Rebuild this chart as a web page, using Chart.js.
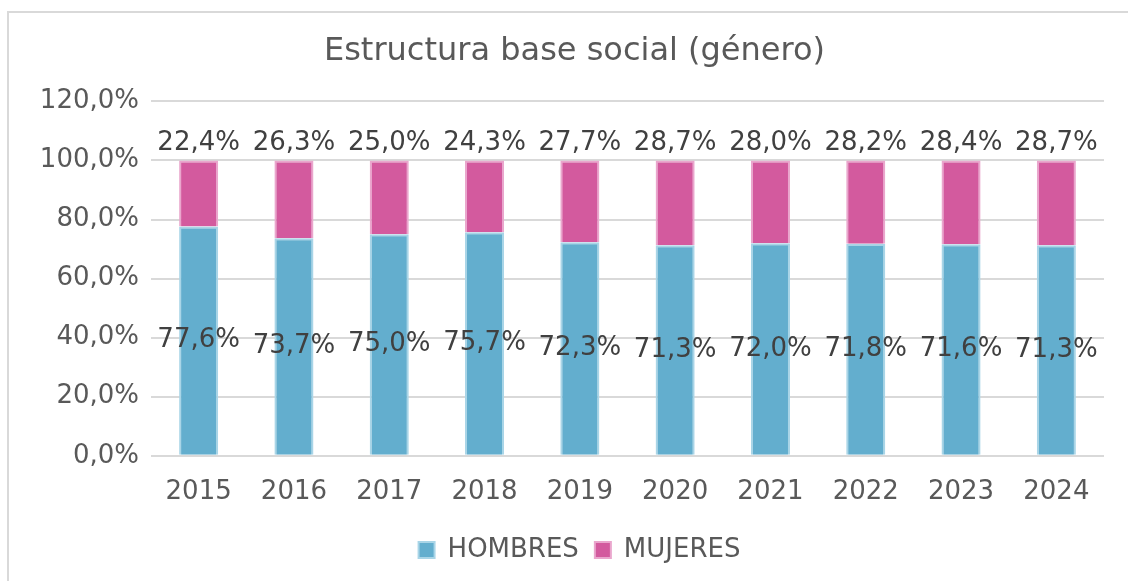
<!DOCTYPE html>
<html>
<head>
<meta charset="utf-8">
<script src="https://cdn.jsdelivr.net/npm/chart.js@4"></script>
<style>
  html, body { margin: 0; padding: 0; background: #fff; overflow: hidden; }
  #frame {
    position: absolute; left: 7px; top: 11px;
    width: 1140px; height: 600px;
    border-left: 2px solid #d9d9d9; border-top: 2px solid #d9d9d9;
  }
  #chart { display: block; }
</style>
</head>
<body>
<div id="frame"><canvas id="chart" width="1119" height="568"></canvas></div>
<script>
const years = ['2015', '2016', '2017', '2018', '2019', '2020', '2021', '2022', '2023', '2024'];
const hombres = [77.6, 73.7, 75.0, 75.7, 72.3, 71.3, 72.0, 71.8, 71.6, 71.3];
const mujeres = [22.4, 26.3, 25.0, 24.3, 27.7, 28.7, 28.0, 28.2, 28.4, 28.7];
const yTicks = [0, 20, 40, 60, 80, 100, 120];

const textColor = '#595959';
const fontFamily = '"DejaVu Sans", Verdana, sans-serif';

function pct(v) {
    return v.toFixed(1).replace('.', ',') + '%';
}

// draw the value labels (no datalabels plugin available)
const valueLabels = {
    id: 'valueLabels',
    afterDatasetsDraw(chart) {
        const ctx = chart.ctx;
        ctx.save();
        ctx.font = '26px ' + fontFamily;
        ctx.fillStyle = '#404040';
        ctx.textAlign = 'center';
        ctx.textBaseline = 'middle';
        chart.data.datasets.forEach((ds, i) => {
            const meta = chart.getDatasetMeta(i);
            meta.data.forEach((bar, j) => {
                if (i === 0) {
                    ctx.fillText(pct(ds.data[j]), bar.x, (bar.y + bar.base) / 2);
                } else {
                    ctx.fillText(pct(ds.data[j]), bar.x, bar.y - 17);
                }
            });
        });
        ctx.restore();
    }
};

// nudge legend and title a bit right, like the original
const shiftBlocks = {
    id: 'shiftBlocks',
    afterLayout(chart) {
        chart.legend.left += 23;
        chart.legend.right += 23;
        chart.titleBlock.left += 18;
        chart.titleBlock.right += 18;
    }
};

const ctx = document.getElementById('chart').getContext('2d');
const chart = new Chart(ctx, {
    type: 'bar',
    data: {
        labels: years,
        datasets: [
            {
                label: 'HOMBRES',
                data: hombres,
                backgroundColor: '#63aece',
                borderColor: '#a9d5e7',
                borderWidth: 2,
                categoryPercentage: 1,
                barPercentage: 0.41,
            },
            {
                label: 'MUJERES',
                data: mujeres,
                backgroundColor: '#d35a9e',
                borderColor: '#eaa6cd',
                borderWidth: 2,
                categoryPercentage: 1,
                barPercentage: 0.41,
            },
        ],
    },
    options: {
        responsive: false,
        animation: false,
        layout: { padding: { left: 0, right: 24, top: 0, bottom: 8 } },
        plugins: {
            title: {
                display: true,
                text: 'Estructura base social (género)',
                color: textColor,
                font: { family: fontFamily, size: 32, weight: 'normal' },
                padding: { top: 19, bottom: 31 },
            },
            legend: {
                position: 'bottom',
                labels: {
                    color: textColor,
                    font: { family: fontFamily, size: 26 },
                    boxWidth: 16,
                    boxHeight: 16,
                    padding: 16,
                },
            },
            tooltip: { enabled: false },
        },
        scales: {
            x: {
                stacked: true,
                grid: { display: false },
                border: { display: false },
                ticks: {
                    color: textColor,
                    font: { family: fontFamily, size: 26 },
                    padding: 13,
                },
            },
            y: {
                stacked: true,
                min: 0,
                max: 120,
                afterBuildTicks(axis) {
                    axis.ticks = yTicks.map(v => ({ value: v }));
                },
                afterFit(axis) {
                    axis.width = 142;
                },
                grid: { color: '#d9d9d9', lineWidth: 2, drawTicks: false },
                border: { display: false },
                ticks: {
                    color: textColor,
                    font: { family: fontFamily, size: 26 },
                    padding: 12,
                    callback: v => pct(v),
                },
            },
        },
    },
    plugins: [valueLabels, shiftBlocks],
});
</script>
</body>
</html>
